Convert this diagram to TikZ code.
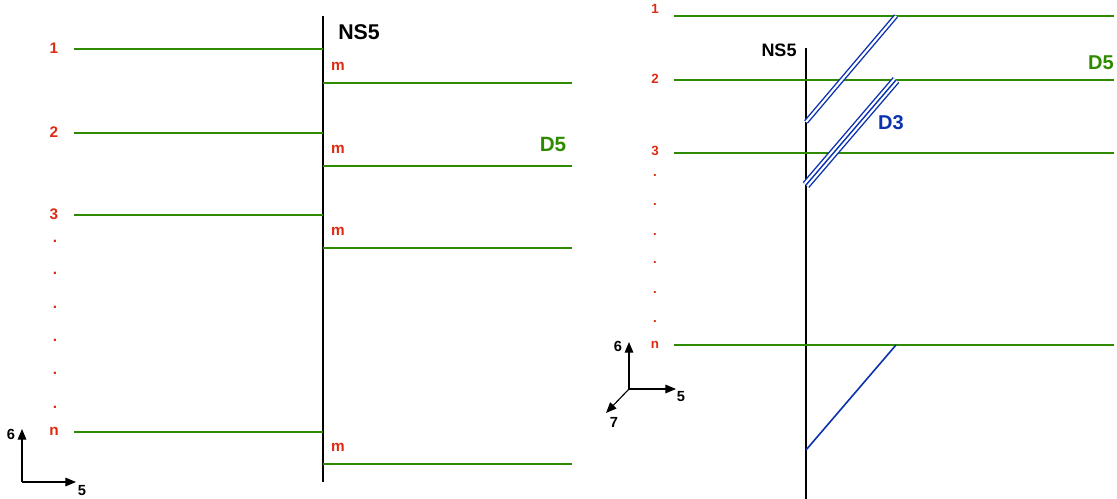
\documentclass[tikz,border=0pt]{standalone}
\usepackage{fontspec}
\setmainfont{Liberation Sans}
\usetikzlibrary{arrows.meta,positioning}
\definecolor{dfive}{RGB}{46,139,0}
\definecolor{numred}{RGB}{221,42,16}
\definecolor{dthree}{RGB}{10,50,175}

\begin{document}
\begin{tikzpicture}[x=0.75pt,y=-0.75pt,
    ns/.style={line width=2pt,black},
    dfive line/.style={line width=1.5pt,dfive},
    dthree line/.style={line width=1.05pt,dthree},
    idx/.style={font=\bfseries\fontsize{11.5}{13}\selectfont,text=numred,inner sep=0pt},
    idxs/.style={font=\bfseries\fontsize{10}{12}\selectfont,text=numred,inner sep=0pt},
    brane label/.style={font=\bfseries\fontsize{#1}{#1}\selectfont,inner sep=0pt},
    axis/.style={line width=0.85pt,-{Triangle[length=8pt,width=6.5pt]}},
    axis label/.style={font=\bfseries\fontsize{11}{13}\selectfont,inner sep=0pt}]
 \useasboundingbox (0,0) rectangle (1117,499);

 % left picture
 \coordinate (NStopL) at (323,16);
 \coordinate (NSbotL) at (323,482);
 \draw[ns] (NStopL) -- (NSbotL);
 \node[brane label=16] (NSL) at (359,32) {NS5};

 \foreach \n/\y/\yy in {1/49/83, 2/133/166, 3/215/248, n/432/464}
   {\node[idx] (L\n) at (54,\y-1) {\n};
    \coordinate (La\n) at (74,\y);
    \coordinate (Lb\n) at (323,\y);
    \coordinate (Lc\n) at (323,\yy);
    \coordinate (Ld\n) at (572,\yy);
    \draw[dfive line] (La\n) -- (Lb\n);
    \draw[dfive line] (Lc\n) -- (Ld\n);
    \node[idx] (m\n) at (338,\yy-17) {m};}

 \foreach \y [count=\i] in {241,273,307,340,373,407}
   \node[idx] (Ldot\i) at (55,\y) {.};

 \node[brane label=15.5,text=dfive] (DfiveL) at (553,144) {D5};

 \coordinate (OL) at (22,482);
 \coordinate (OLup) at (22,429);
 \coordinate (OLright) at (76,482);
 \draw[axis] (OL) -- (OLup);
 \draw[axis] (OL) -- (OLright);
 \node[axis label] (sixL) at (11,434) {6};
 \node[axis label] (fiveL) at (82,491) {5};

 % right picture
 \coordinate (NStopR) at (806,48);
 \coordinate (NSbotR) at (806,499);
 \draw[ns,line width=1.8pt] (NStopR) -- (NSbotR);
 \node[brane label=13.5] (NSR) at (779,50) {NS5};

 \foreach \n/\y/\ly in {1/16/9, 2/80/79, 3/153/151, n/345/345}
   {\node[idxs] (R\n) at (655,\ly) {\n};
    \coordinate (Ra\n) at (674,\y);
    \coordinate (Rb\n) at (1114,\y);
    \draw[dfive line,line width=1.2pt] (Ra\n) -- (Rb\n);}

 \foreach \y [count=\i] in {176,205,235,263,293,322}
   \node[idxs] (Rdot\i) at (655,\y) {.};

 \node[brane label=15,text=dfive] (DfiveR) at (1101,63) {D5};

 \coordinate (DtwoA) at (806,122);
 \coordinate (DtwoB) at (896,16);
 \coordinate (DthreeA) at (806,185);
 \coordinate (DthreeB) at (896,80);
 \coordinate (DoneA) at (806,450);
 \coordinate (DoneB) at (896,345);
 \draw[dthree line,double=white,double distance=1.6pt] (DtwoA) -- (DtwoB);
 \draw[dthree line,double=white,double distance=4.4pt] (DthreeA) -- (DthreeB);
 \draw[dthree line] (DthreeA) -- (DthreeB);
 \draw[dthree line,line width=1.2pt] (DoneA) -- (DoneB);
 \node[brane label=15,text=dthree] (Dthree) at (891,123) {D3};

 \coordinate (OR) at (629,389);
 \coordinate (ORup) at (629,342);
 \coordinate (ORright) at (676,389);
 \coordinate (ORdiag) at (606,413);
 \draw[axis] (OR) -- (ORup);
 \draw[axis] (OR) -- (ORright);
 \draw[axis] (OR) -- (ORdiag);
 \node[axis label] (sixR) at (618,346) {6};
 \node[axis label] (fiveR) at (681,397) {5};
 \node[axis label] (sevenR) at (614,422) {7};
\end{tikzpicture}
\end{document}
